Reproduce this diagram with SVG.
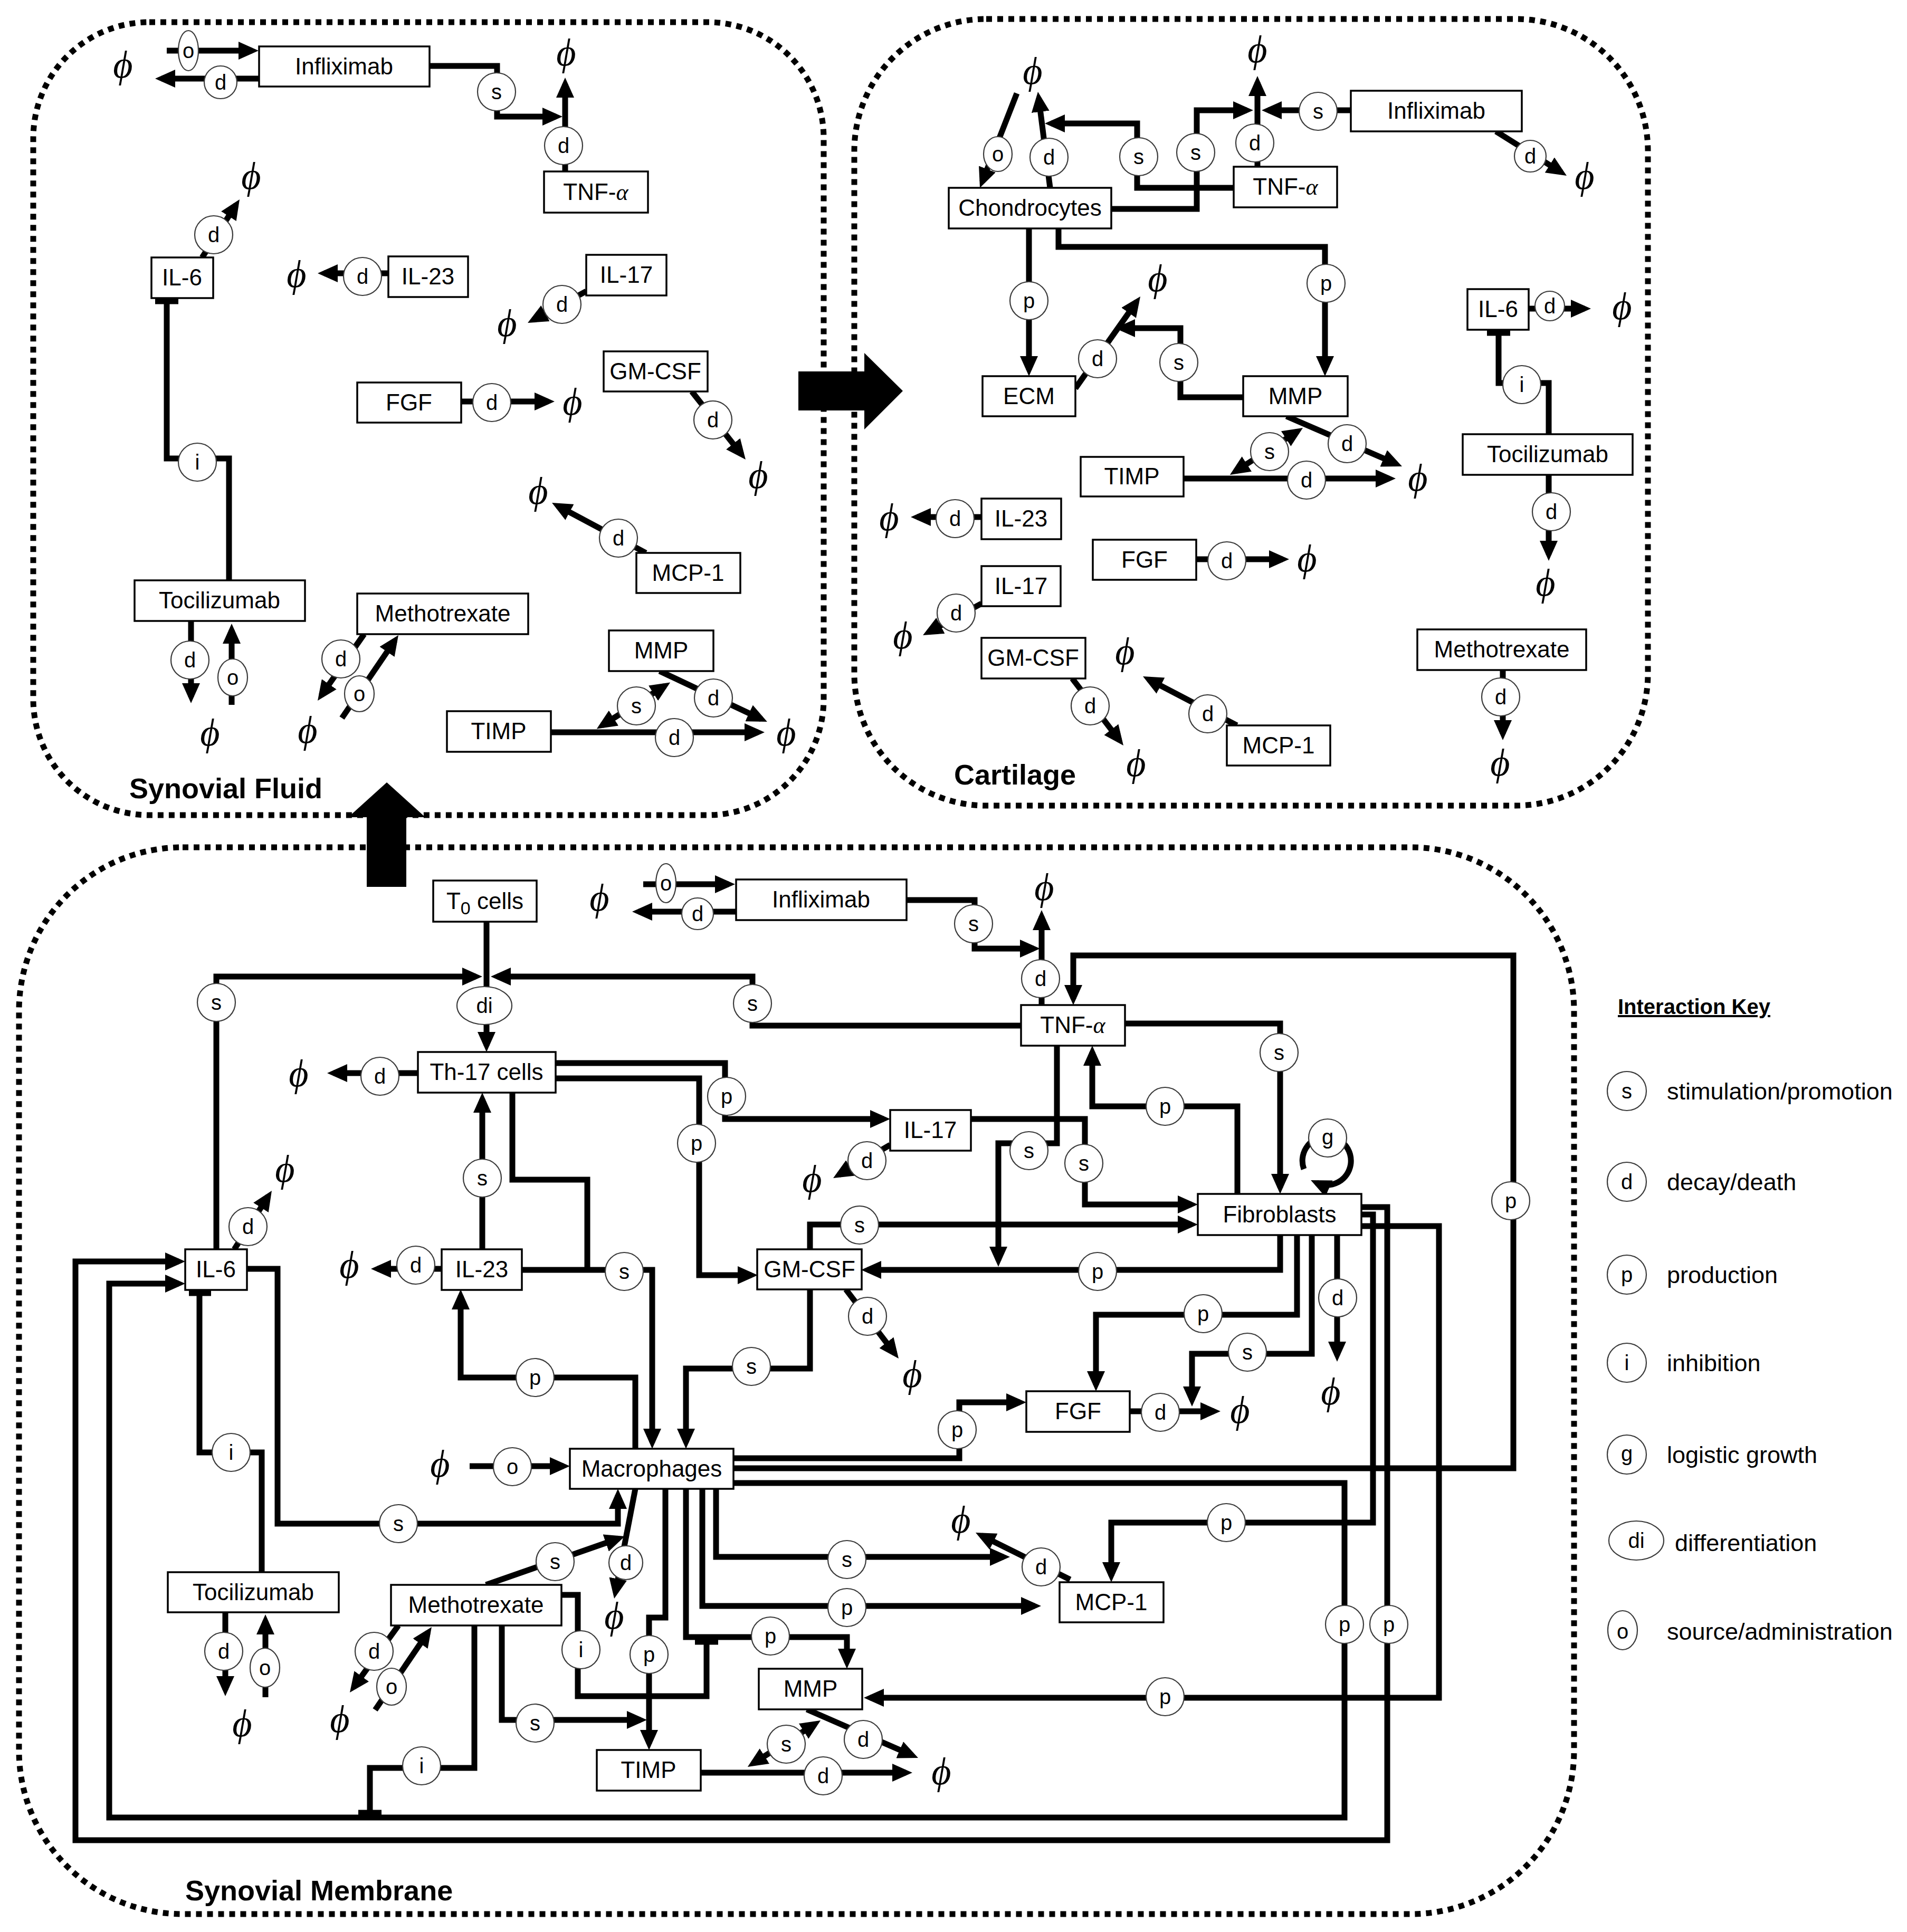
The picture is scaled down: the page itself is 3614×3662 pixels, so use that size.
<svg xmlns="http://www.w3.org/2000/svg" width="3614" height="3662" viewBox="0 0 3614 3662">
<style>
.bd{fill:none;stroke:#000;stroke-width:11;stroke-dasharray:11 10}
.bx{fill:#fff;stroke:#000;stroke-width:3.5}
.t{font-family:"Liberation Sans",Arial,sans-serif;font-size:44px;text-anchor:middle;fill:#000}
.al{font-family:"Liberation Serif","DejaVu Serif",serif;font-style:italic}
.ln{fill:none;stroke:#000;stroke-width:11;stroke-linejoin:miter;stroke-linecap:butt}
.ar{marker-end:url(#ah)}
.da{marker-start:url(#ah2);marker-end:url(#ah2)}
.tb{fill:none;stroke:#000;stroke-width:11}
.ic circle,.ic ellipse{fill:#fff;stroke:#3a3a3a;stroke-width:2.2}
.ic text{font-family:"Liberation Sans",Arial,sans-serif;font-size:40px;text-anchor:middle;fill:#000}
.phi{font-family:"Liberation Serif","DejaVu Serif",serif;font-style:italic;font-size:72px;text-anchor:middle;fill:#000}
.cl{font-family:"Liberation Sans",Arial,sans-serif;font-weight:bold;font-size:54px;fill:#000}
.kt{font-family:"Liberation Sans",Arial,sans-serif;font-size:45px;fill:#000}
.kh{font-family:"Liberation Sans",Arial,sans-serif;font-size:40px;font-weight:bold;text-decoration:underline;fill:#000}
</style>
<defs>
<marker id="ah" markerUnits="userSpaceOnUse" markerWidth="38" markerHeight="34" viewBox="0 0 38 34" refX="26" refY="17" orient="auto"><path d="M0,0L38,17L0,34z" fill="#000"/></marker>
<marker id="ah2" markerUnits="userSpaceOnUse" markerWidth="38" markerHeight="34" viewBox="0 0 38 34" refX="26" refY="17" orient="auto-start-reverse"><path d="M0,0L38,17L0,34z" fill="#000"/></marker>
</defs>
<rect width="3614" height="3662" fill="#fff"/>

<g id="compartments">
<rect class="bd" x="63" y="42" width="1498" height="1503" rx="220" ry="220"/>
<rect class="bd" x="1619" y="36" width="1504" height="1491" rx="250" ry="250"/>
<rect class="bd" x="36" y="1606" width="2947" height="2022" rx="310" ry="310"/>
<polygon points="1513,704 1638,704 1638,669 1711,741 1638,814 1638,778 1513,778" fill="#000"/>
<polygon points="695,1681 695,1549 660,1549 733,1483 806,1549 770,1549 770,1681" fill="#000"/>
<text class="cl" x="245" y="1513">Synovial Fluid</text>
<text class="cl" x="1808" y="1487">Cartilage</text>
<text class="cl" x="351" y="3602">Synovial Membrane</text>
</g>

<g id="connectors">
<path class="ln ar" d="M316,96H478"/>
<path class="ln ar" d="M491,149H306"/>
<path class="ln ar" d="M814,125H942V221H1054"/>
<path class="ln ar" d="M1071,325V159"/>
<path class="ln ar" d="M383,488L447.5,388"/>
<path class="ln ar" d="M736,518H614"/>
<path class="ln ar" d="M1111,552L1010.6,606.3"/>
<path class="ln ar" d="M874,761H1039"/>
<path class="ln ar" d="M1311,742L1405.5,861.6"/>
<path class="ln ar" d="M1224,1048L1056.6,958.6"/>
<path class="ln" d="M434,1100V869H316V571"/>
<path class="tb" d="M294,571H338"/>
<path class="ln ar" d="M362,1177V1321"/>
<path class="ln ar" d="M439,1336V1194"/>
<path class="ln ar" d="M690,1202L608.9,1318.2"/>
<path class="ln ar" d="M648,1361L748.2,1214"/>
<path class="ln ar" d="M1044,1388H1437"/>
<path class="ln ar" d="M1250,1272L1443,1363"/>
<path class="ln da" d="M1141,1375L1260,1300"/>

<path class="ln ar" d="M1927,177L1861.4,344.8"/>
<path class="ln ar" d="M1990,356L1968.5,186"/>
<path class="ln ar" d="M2338,356H2155V234H1992"/>
<path class="ln ar" d="M2106,396H2268V209H2363"/>
<path class="ln ar" d="M2383,316V156"/>
<path class="ln ar" d="M2560,209H2403"/>
<path class="ln ar" d="M2835,249L2958.8,326.6"/>
<path class="ln ar" d="M1950,433V701"/>
<path class="ln ar" d="M2006,433V468H2511V701"/>
<path class="ln ar" d="M2038,736L2154.1,571.8"/>
<path class="ln ar" d="M2356,753H2237V622H2125"/>
<path class="ln ar" d="M2438,789L2646,879.2"/>
<path class="ln ar" d="M2243,907H2633"/>
<path class="ln da" d="M2341,893.5L2459,817.5"/>
<path class="ln ar" d="M1860,980H1738"/>
<path class="ln ar" d="M2267,1060H2431"/>
<path class="ln ar" d="M1860,1144L1759.6,1198.3"/>
<path class="ln ar" d="M2032,1286L2121.7,1403.5"/>
<path class="ln ar" d="M2344,1375L2176.6,1287.6"/>
<path class="ln ar" d="M2897,585H3003"/>
<path class="ln" d="M2935,823V726H2840V631"/>
<path class="tb" d="M2818,631H2862"/>
<path class="ln ar" d="M2935,900V1051"/>
<path class="ln ar" d="M2848,1270V1391"/>

<path class="ln ar" d="M1219,1676H1381"/>
<path class="ln ar" d="M1395,1728H1210"/>
<path class="ln ar" d="M1718,1706H1847V1798H1959"/>
<path class="ln ar" d="M1974,1905V1737"/>
<path class="ln ar" d="M922,1747V1982"/>
<path class="ln ar" d="M410,2368V1851H902"/>
<path class="ln ar" d="M1935,1944H1426V1851H942"/>
<path class="ln ar" d="M792,2034H632"/>
<path class="ln ar" d="M1053,2015H1374V2121H1675"/>
<path class="ln ar" d="M1053,2044H1325V2417H1424"/>
<path class="ln ar" d="M914,2368V2083"/>
<path class="ln" d="M971,2071V2236H1113V2407"/>
<path class="ln ar" d="M989,2407H1236V2734"/>
<path class="ln ar" d="M1204,2746V2611H873V2456"/>
<path class="ln ar" d="M444,2368L508.5,2267"/>
<path class="ln ar" d="M837,2405H715"/>
<path class="ln ar" d="M468,2405H526V2888H1171V2834"/>
<path class="ln" d="M496,2980V2753H378V2451"/>
<path class="tb" d="M358,2451H400"/>
<path class="ln ar" d="M427,3056V3203"/>
<path class="ln ar" d="M503,3217V3072"/>
<path class="ln ar" d="M755,3081L670,3198.3"/>
<path class="ln ar" d="M711,3241L811.2,3093.9"/>
<path class="ln ar" d="M921,3004L1172.7,2916"/>
<path class="ln ar" d="M1204,2822L1166.3,3018.2"/>
<path class="ln" d="M1064,3023H1095V3215H1339V3112"/>
<path class="tb" d="M1317,3112H1361"/>
<path class="ln ar" d="M951,3081V3260H1214"/>
<path class="ln" d="M899,3081V3351H701V3436"/>
<path class="tb" d="M679,3436H723"/>
<path class="ln ar" d="M2580,2288H2629V3488H143V2391H339"/>
<path class="ln ar" d="M1390,2811H2548V3445H207V2433H339"/>
<path class="ln ar" d="M1390,2783H2868V1811H2034V1893"/>
<path class="ln ar" d="M2580,2302H2602V2886H2106V2987"/>
<path class="ln ar" d="M2580,2324H2727V3218H1649"/>
<path class="ln ar" d="M2132,1940H2426V2251"/>
<path class="ln ar" d="M2345,2263V2097H2070V1994"/>
<path class="ln ar" d="M2471,2216A46,46 0 1 1 2495,2242"/>
<path class="ln ar" d="M1840,2121H2056V2283H2258"/>
<path class="ln ar" d="M1535,2368V2321H2258"/>
<path class="ln ar" d="M2003,1982V2167H1892V2389"/>
<path class="ln ar" d="M1687,2170L1589.4,2227"/>
<path class="ln ar" d="M1603,2444L1695.7,2565.5"/>
<path class="ln ar" d="M1535,2444V2594H1300V2734"/>
<path class="ln ar" d="M2426,2340V2407H1644"/>
<path class="ln ar" d="M2458,2340V2492H2077V2625"/>
<path class="ln ar" d="M2486,2340V2566H2259V2654"/>
<path class="ln ar" d="M2534,2340V2569"/>
<path class="ln ar" d="M2141,2675H2301"/>
<path class="ln ar" d="M1390,2764H1818V2658H1933"/>
<path class="ln ar" d="M890,2779H1068"/>
<path class="ln ar" d="M1261,2822V3066H1230V3305"/>
<path class="ln ar" d="M1300,2822V3103H1605V3151"/>
<path class="ln ar" d="M1331,2822V3044H1961"/>
<path class="ln ar" d="M1357,2822V2951H1902"/>
<path class="ln ar" d="M2028,2994L1859.7,2910.3"/>
<path class="ln ar" d="M1328,3360H1717"/>
<path class="ln ar" d="M1529,3240L1729,3327.2"/>
<path class="ln da" d="M1427,3342.6L1545,3267.4"/>
</g>

<g id="interactions" class="ic">
<ellipse cx="357" cy="96" rx="19" ry="38"/><text x="357" y="110">o</text>
<circle cx="418" cy="156" r="31"/><text x="418" y="170">d</text>
<circle cx="941" cy="174" r="36"/><text x="941" y="188">s</text>
<circle cx="1068" cy="276" r="36"/><text x="1068" y="290">d</text>
<circle cx="405" cy="445" r="36"/><text x="405" y="459">d</text>
<circle cx="687" cy="524" r="36"/><text x="687" y="538">d</text>
<circle cx="1065" cy="577" r="36"/><text x="1065" y="591">d</text>
<circle cx="932" cy="763" r="36"/><text x="932" y="777">d</text>
<circle cx="1351" cy="796" r="36"/><text x="1351" y="810">d</text>
<circle cx="1172" cy="1020" r="36"/><text x="1172" y="1034">d</text>
<circle cx="374" cy="876" r="36"/><text x="374" y="890">i</text>
<circle cx="360" cy="1251" r="36"/><text x="360" y="1265">d</text>
<ellipse cx="441" cy="1284" rx="28" ry="35"/><text x="441" y="1298">o</text>
<circle cx="646" cy="1249" r="36"/><text x="646" y="1263">d</text>
<ellipse cx="681" cy="1315" rx="28" ry="34"/><text x="681" y="1329">o</text>
<circle cx="1278" cy="1398" r="36"/><text x="1278" y="1412">d</text>
<circle cx="1352" cy="1323" r="36"/><text x="1352" y="1337">d</text>
<circle cx="1206" cy="1338" r="36"/><text x="1206" y="1352">s</text>

<ellipse cx="1891" cy="292" rx="27" ry="33"/><text x="1891" y="306">o</text>
<circle cx="1988" cy="298" r="36"/><text x="1988" y="312">d</text>
<circle cx="2158" cy="297" r="36"/><text x="2158" y="311">s</text>
<circle cx="2266" cy="289" r="36"/><text x="2266" y="303">s</text>
<circle cx="2378" cy="271" r="36"/><text x="2378" y="285">d</text>
<circle cx="2498" cy="211" r="36"/><text x="2498" y="225">s</text>
<circle cx="2900" cy="296" r="30"/><text x="2900" y="310">d</text>
<circle cx="1950" cy="570" r="36"/><text x="1950" y="584">p</text>
<circle cx="2513" cy="537" r="36"/><text x="2513" y="551">p</text>
<circle cx="2080" cy="680" r="36"/><text x="2080" y="694">d</text>
<circle cx="2234" cy="687" r="36"/><text x="2234" y="701">s</text>
<circle cx="2553" cy="841" r="36"/><text x="2553" y="855">d</text>
<circle cx="2476" cy="910" r="36"/><text x="2476" y="924">d</text>
<circle cx="2406" cy="856" r="36"/><text x="2406" y="870">s</text>
<circle cx="1810" cy="983" r="36"/><text x="1810" y="997">d</text>
<circle cx="2325" cy="1063" r="36"/><text x="2325" y="1077">d</text>
<circle cx="1812" cy="1162" r="36"/><text x="1812" y="1176">d</text>
<circle cx="2066" cy="1338" r="36"/><text x="2066" y="1352">d</text>
<circle cx="2289" cy="1353" r="36"/><text x="2289" y="1367">d</text>
<circle cx="2937" cy="580" r="28"/><text x="2937" y="594">d</text>
<circle cx="2884" cy="729" r="36"/><text x="2884" y="743">i</text>
<circle cx="2940" cy="970" r="36"/><text x="2940" y="984">d</text>
<circle cx="2844" cy="1321" r="36"/><text x="2844" y="1335">d</text>

<ellipse cx="1262" cy="1674" rx="19" ry="37"/><text x="1262" y="1688">o</text>
<circle cx="1322" cy="1732" r="30"/><text x="1322" y="1746">d</text>
<circle cx="1845" cy="1751" r="36"/><text x="1845" y="1765">s</text>
<circle cx="1972" cy="1855" r="36"/><text x="1972" y="1869">d</text>
<ellipse cx="918" cy="1906" rx="52" ry="36"/><text x="918" y="1920">di</text>
<circle cx="410" cy="1900" r="36"/><text x="410" y="1914">s</text>
<circle cx="1426" cy="1902" r="36"/><text x="1426" y="1916">s</text>
<circle cx="720" cy="2040" r="36"/><text x="720" y="2054">d</text>
<circle cx="1377" cy="2078" r="36"/><text x="1377" y="2092">p</text>
<circle cx="1320" cy="2167" r="36"/><text x="1320" y="2181">p</text>
<circle cx="914" cy="2233" r="36"/><text x="914" y="2247">s</text>
<circle cx="1183" cy="2410" r="36"/><text x="1183" y="2424">s</text>
<circle cx="1014" cy="2611" r="36"/><text x="1014" y="2625">p</text>
<circle cx="470" cy="2325" r="36"/><text x="470" y="2339">d</text>
<circle cx="788" cy="2398" r="36"/><text x="788" y="2412">d</text>
<circle cx="755" cy="2888" r="36"/><text x="755" y="2902">s</text>
<circle cx="438" cy="2753" r="36"/><text x="438" y="2767">i</text>
<circle cx="424" cy="3130" r="36"/><text x="424" y="3144">d</text>
<ellipse cx="502" cy="3161" rx="28" ry="37"/><text x="502" y="3175">o</text>
<circle cx="709" cy="3130" r="36"/><text x="709" y="3144">d</text>
<ellipse cx="742" cy="3197" rx="28" ry="35"/><text x="742" y="3211">o</text>
<circle cx="1052" cy="2960" r="36"/><text x="1052" y="2974">s</text>
<circle cx="1186" cy="2962" r="32"/><text x="1186" y="2976">d</text>
<circle cx="1101" cy="3127" r="36"/><text x="1101" y="3141">i</text>
<circle cx="1014" cy="3266" r="36"/><text x="1014" y="3280">s</text>
<circle cx="799" cy="3347" r="36"/><text x="799" y="3361">i</text>
<circle cx="2632" cy="3079" r="36"/><text x="2632" y="3093">p</text>
<circle cx="2548" cy="3079" r="36"/><text x="2548" y="3093">p</text>
<circle cx="2863" cy="2276" r="36"/><text x="2863" y="2290">p</text>
<circle cx="2324" cy="2886" r="36"/><text x="2324" y="2900">p</text>
<circle cx="2208" cy="3216" r="36"/><text x="2208" y="3230">p</text>
<circle cx="2424" cy="1995" r="36"/><text x="2424" y="2009">s</text>
<circle cx="2208" cy="2097" r="36"/><text x="2208" y="2111">p</text>
<circle cx="2516" cy="2157" r="36"/><text x="2516" y="2169">g</text>
<circle cx="2054" cy="2205" r="36"/><text x="2054" y="2219">s</text>
<circle cx="1629" cy="2322" r="36"/><text x="1629" y="2336">s</text>
<circle cx="1950" cy="2181" r="36"/><text x="1950" y="2195">s</text>
<circle cx="1643" cy="2200" r="36"/><text x="1643" y="2214">d</text>
<circle cx="1644" cy="2495" r="36"/><text x="1644" y="2509">d</text>
<circle cx="1424" cy="2590" r="36"/><text x="1424" y="2604">s</text>
<circle cx="2080" cy="2410" r="36"/><text x="2080" y="2424">p</text>
<circle cx="2280" cy="2490" r="36"/><text x="2280" y="2504">p</text>
<circle cx="2364" cy="2563" r="36"/><text x="2364" y="2577">s</text>
<circle cx="2535" cy="2460" r="36"/><text x="2535" y="2474">d</text>
<circle cx="2199" cy="2677" r="36"/><text x="2199" y="2691">d</text>
<circle cx="1814" cy="2710" r="36"/><text x="1814" y="2724">p</text>
<circle cx="971" cy="2780" r="36"/><text x="971" y="2794">o</text>
<circle cx="1230" cy="3136" r="36"/><text x="1230" y="3150">p</text>
<circle cx="1460" cy="3101" r="36"/><text x="1460" y="3115">p</text>
<circle cx="1605" cy="3047" r="36"/><text x="1605" y="3061">p</text>
<circle cx="1605" cy="2956" r="36"/><text x="1605" y="2970">s</text>
<circle cx="1973" cy="2970" r="36"/><text x="1973" y="2984">d</text>
<circle cx="1560" cy="3366" r="36"/><text x="1560" y="3380">d</text>
<circle cx="1636" cy="3297" r="36"/><text x="1636" y="3311">d</text>
<circle cx="1490" cy="3306" r="36"/><text x="1490" y="3320">s</text>
</g>

<g id="nodes">
<g id="sf-infliximab"><rect class="bx" x="491" y="88" width="323" height="76"/><text class="t" x="652" y="141">Infliximab</text></g>
<g id="sf-tnf"><rect class="bx" x="1031" y="325" width="197" height="78"/><text class="t" x="1129" y="379">TNF-<tspan class="al">α</tspan></text></g>
<g id="sf-il6"><rect class="bx" x="287" y="488" width="117" height="77"/><text class="t" x="345" y="541">IL-6</text></g>
<g id="sf-il23"><rect class="bx" x="736" y="486" width="151" height="77"/><text class="t" x="811" y="539">IL-23</text></g>
<g id="sf-il17"><rect class="bx" x="1111" y="483" width="152" height="77"/><text class="t" x="1187" y="536">IL-17</text></g>
<g id="sf-fgf"><rect class="bx" x="677" y="725" width="197" height="76"/><text class="t" x="775" y="778">FGF</text></g>
<g id="sf-gmcsf"><rect class="bx" x="1144" y="666" width="197" height="76"/><text class="t" x="1242" y="719">GM-CSF</text></g>
<g id="sf-mcp1"><rect class="bx" x="1206" y="1048" width="197" height="76"/><text class="t" x="1304" y="1101">MCP-1</text></g>
<g id="sf-tocilizumab"><rect class="bx" x="255" y="1100" width="323" height="77"/><text class="t" x="416" y="1153">Tocilizumab</text></g>
<g id="sf-methotrexate"><rect class="bx" x="677" y="1125" width="324" height="77"/><text class="t" x="839" y="1178">Methotrexate</text></g>
<g id="sf-mmp"><rect class="bx" x="1154" y="1195" width="198" height="77"/><text class="t" x="1253" y="1248">MMP</text></g>
<g id="sf-timp"><rect class="bx" x="847" y="1348" width="197" height="77"/><text class="t" x="945" y="1401">TIMP</text></g>

<g id="ca-chondrocytes"><rect class="bx" x="1798" y="356" width="308" height="77"/><text class="t" x="1952" y="409">Chondrocytes</text></g>
<g id="ca-tnf"><rect class="bx" x="2338" y="316" width="196" height="77"/><text class="t" x="2436" y="369">TNF-<tspan class="al">α</tspan></text></g>
<g id="ca-infliximab"><rect class="bx" x="2560" y="172" width="324" height="77"/><text class="t" x="2722" y="225">Infliximab</text></g>
<g id="ca-ecm"><rect class="bx" x="1862" y="713" width="176" height="76"/><text class="t" x="1950" y="766">ECM</text></g>
<g id="ca-mmp"><rect class="bx" x="2356" y="713" width="198" height="76"/><text class="t" x="2455" y="766">MMP</text></g>
<g id="ca-timp"><rect class="bx" x="2048" y="866" width="195" height="75"/><text class="t" x="2145" y="918">TIMP</text></g>
<g id="ca-il23"><rect class="bx" x="1860" y="945" width="151" height="77"/><text class="t" x="1935" y="998">IL-23</text></g>
<g id="ca-fgf"><rect class="bx" x="2071" y="1023" width="196" height="76"/><text class="t" x="2169" y="1076">FGF</text></g>
<g id="ca-il17"><rect class="bx" x="1860" y="1073" width="150" height="76"/><text class="t" x="1935" y="1126">IL-17</text></g>
<g id="ca-gmcsf"><rect class="bx" x="1860" y="1209" width="197" height="77"/><text class="t" x="1958" y="1262">GM-CSF</text></g>
<g id="ca-mcp1"><rect class="bx" x="2325" y="1375" width="196" height="76"/><text class="t" x="2423" y="1428">MCP-1</text></g>
<g id="ca-il6"><rect class="bx" x="2781" y="548" width="116" height="77"/><text class="t" x="2839" y="601">IL-6</text></g>
<g id="ca-tocilizumab"><rect class="bx" x="2772" y="823" width="322" height="77"/><text class="t" x="2933" y="876">Tocilizumab</text></g>
<g id="ca-methotrexate"><rect class="bx" x="2686" y="1193" width="320" height="77"/><text class="t" x="2846" y="1246">Methotrexate</text></g>

<g id="sm-t0"><rect class="bx" x="821" y="1669" width="196" height="78"/><text class="t" x="919" y="1723">T<tspan dy="10" font-size="34">0</tspan><tspan dy="-10"> cells</tspan></text></g>
<g id="sm-infliximab"><rect class="bx" x="1395" y="1667" width="323" height="77"/><text class="t" x="1556" y="1720">Infliximab</text></g>
<g id="sm-th17"><rect class="bx" x="792" y="1994" width="261" height="77"/><text class="t" x="922" y="2047">Th-17 cells</text></g>
<g id="sm-il6"><rect class="bx" x="351" y="2368" width="117" height="77"/><text class="t" x="409" y="2421">IL-6</text></g>
<g id="sm-il23"><rect class="bx" x="837" y="2368" width="152" height="77"/><text class="t" x="913" y="2421">IL-23</text></g>
<g id="sm-gmcsf"><rect class="bx" x="1435" y="2368" width="198" height="76"/><text class="t" x="1534" y="2421">GM-CSF</text></g>
<g id="sm-tnf"><rect class="bx" x="1935" y="1905" width="197" height="77"/><text class="t" x="2033" y="1958">TNF-<tspan class="al">α</tspan></text></g>
<g id="sm-il17"><rect class="bx" x="1687" y="2104" width="153" height="77"/><text class="t" x="1763" y="2157">IL-17</text></g>
<g id="sm-fibroblasts"><rect class="bx" x="2270" y="2263" width="310" height="78"/><text class="t" x="2425" y="2317">Fibroblasts</text></g>
<g id="sm-fgf"><rect class="bx" x="1945" y="2637" width="196" height="77"/><text class="t" x="2043" y="2690">FGF</text></g>
<g id="sm-macrophages"><rect class="bx" x="1080" y="2746" width="310" height="76"/><text class="t" x="1235" y="2799">Macrophages</text></g>
<g id="sm-mcp1"><rect class="bx" x="2008" y="2999" width="197" height="76"/><text class="t" x="2106" y="3052">MCP-1</text></g>
<g id="sm-mmp"><rect class="bx" x="1438" y="3163" width="196" height="77"/><text class="t" x="1536" y="3216">MMP</text></g>
<g id="sm-timp"><rect class="bx" x="1131" y="3317" width="197" height="77"/><text class="t" x="1229" y="3370">TIMP</text></g>
<g id="sm-tocilizumab"><rect class="bx" x="318" y="2980" width="324" height="76"/><text class="t" x="480" y="3033">Tocilizumab</text></g>
<g id="sm-methotrexate"><rect class="bx" x="741" y="3004" width="323" height="77"/><text class="t" x="902" y="3057">Methotrexate</text></g>
</g>

<g id="sinks">
<text class="phi" x="233" y="147">ϕ</text>
<text class="phi" x="1073" y="124">ϕ</text>
<text class="phi" x="476" y="358">ϕ</text>
<text class="phi" x="562" y="544">ϕ</text>
<text class="phi" x="961" y="637">ϕ</text>
<text class="phi" x="1085" y="786">ϕ</text>
<text class="phi" x="1437" y="925">ϕ</text>
<text class="phi" x="1020" y="955">ϕ</text>
<text class="phi" x="398" y="1413">ϕ</text>
<text class="phi" x="583" y="1408">ϕ</text>
<text class="phi" x="1490" y="1413">ϕ</text>
<text class="phi" x="1957" y="159">ϕ</text>
<text class="phi" x="2383" y="118">ϕ</text>
<text class="phi" x="3003" y="358">ϕ</text>
<text class="phi" x="2194" y="552">ϕ</text>
<text class="phi" x="3074" y="605">ϕ</text>
<text class="phi" x="2687" y="930">ϕ</text>
<text class="phi" x="1685" y="1005">ϕ</text>
<text class="phi" x="2477" y="1083">ϕ</text>
<text class="phi" x="2929" y="1129">ϕ</text>
<text class="phi" x="1711" y="1229">ϕ</text>
<text class="phi" x="2132" y="1259">ϕ</text>
<text class="phi" x="2153" y="1471">ϕ</text>
<text class="phi" x="2843" y="1470">ϕ</text>
<text class="phi" x="1136" y="1726">ϕ</text>
<text class="phi" x="1979" y="1706">ϕ</text>
<text class="phi" x="566" y="2059">ϕ</text>
<text class="phi" x="1539" y="2259">ϕ</text>
<text class="phi" x="540" y="2240">ϕ</text>
<text class="phi" x="662" y="2422">ϕ</text>
<text class="phi" x="1729" y="2629">ϕ</text>
<text class="phi" x="2522" y="2662">ϕ</text>
<text class="phi" x="2350" y="2697">ϕ</text>
<text class="phi" x="834" y="2799">ϕ</text>
<text class="phi" x="1164" y="3087">ϕ</text>
<text class="phi" x="1821" y="2905">ϕ</text>
<text class="phi" x="459" y="3291">ϕ</text>
<text class="phi" x="644" y="3283">ϕ</text>
<text class="phi" x="1784" y="3382">ϕ</text>
</g>

<g id="key">
<text class="kh" x="3066" y="1922">Interaction Key</text>
<g class="ic">
<circle cx="3083" cy="2068" r="37"/><text x="3083" y="2082">s</text>
<circle cx="3083" cy="2240" r="37"/><text x="3083" y="2254">d</text>
<circle cx="3083" cy="2416" r="37"/><text x="3083" y="2430">p</text>
<circle cx="3083" cy="2583" r="37"/><text x="3083" y="2597">i</text>
<circle cx="3083" cy="2757" r="37"/><text x="3083" y="2769">g</text>
<ellipse cx="3101" cy="2920" rx="52" ry="37"/><text x="3101" y="2934">di</text>
<ellipse cx="3075" cy="3090" rx="28" ry="37"/><text x="3075" y="3106">o</text>
</g>
<text class="kt" x="3159" y="2084">stimulation/promotion</text>
<text class="kt" x="3159" y="2256">decay/death</text>
<text class="kt" x="3159" y="2432">production</text>
<text class="kt" x="3159" y="2599">inhibition</text>
<text class="kt" x="3159" y="2773">logistic growth</text>
<text class="kt" x="3174" y="2940">differentiation</text>
<text class="kt" x="3159" y="3108">source/administration</text>
</g>
</svg>
